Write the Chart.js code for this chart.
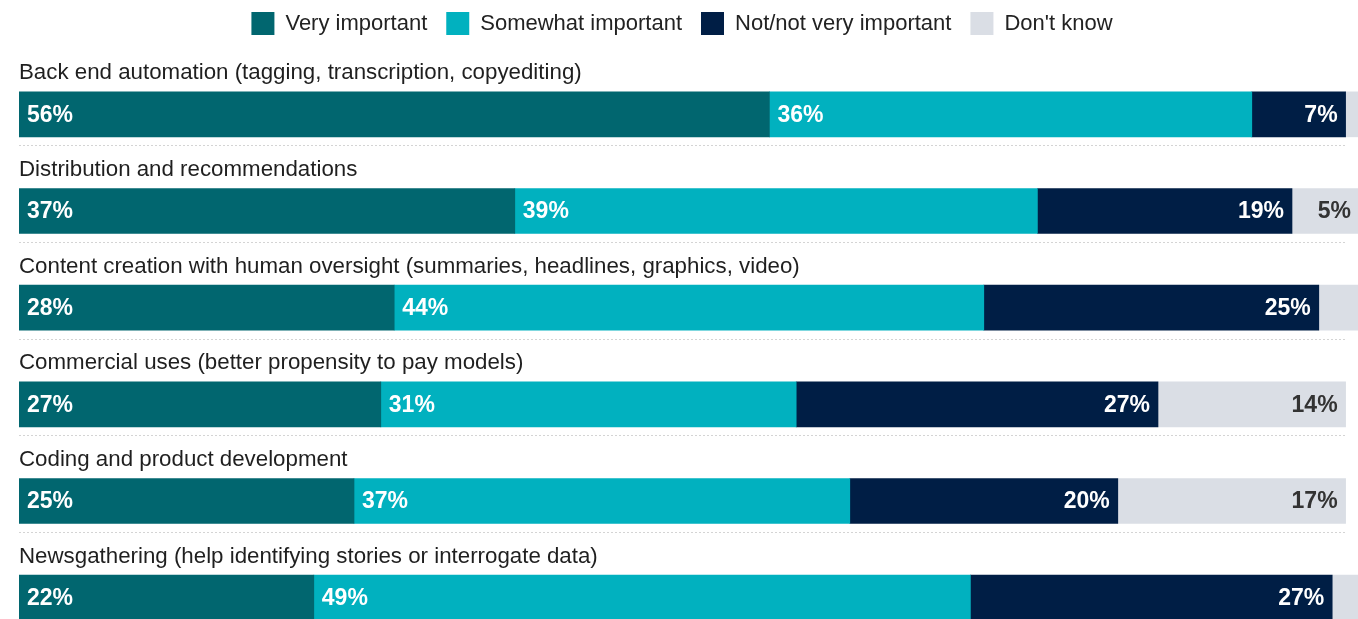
<!DOCTYPE html>
<html>
<head>
<meta charset="utf-8">
<script src="https://cdn.jsdelivr.net/npm/chart.js@4/dist/chart.umd.min.js"></script>
<style>
  html, body { margin: 0; padding: 0; background: #ffffff; }
  #wrap { width: 1358px; height: 619px; overflow: hidden; position: relative; }
  canvas { display: block; }
</style>
</head>
<body>
<div id="wrap"><canvas id="c" width="1360" height="646"></canvas></div>
<script>
const categories = [
  "Back end automation (tagging, transcription, copyediting)",
  "Distribution and recommendations",
  "Content creation with human oversight (summaries, headlines, graphics, video)",
  "Commercial uses (better propensity to pay models)",
  "Coding and product development",
  "Newsgathering (help identifying stories or interrogate data)"
];
const seriesNames = ["Very important", "Somewhat important", "Not/not very important", "Don't know"];
const veryImportant     = [56, 37, 28, 27, 25, 22];
const somewhatImportant = [36, 39, 44, 31, 37, 49];
const notImportant      = [7, 19, 25, 27, 20, 27];
const dontKnow          = [1, 5, 3, 14, 17, 2];
const seriesColors = ["#01666F", "#01B1BF", "#001E45", "#DADEE5"];
const labelColors  = ["#ffffff", "#ffffff", "#ffffff", "#333333"];

const FONT = "'Liberation Sans', Arial, sans-serif";

const legendMargin = {
  id: 'legendMargin',
  beforeInit(chart) {
    const orig = chart.legend.fit;
    chart.legend.fit = function () {
      orig.bind(chart.legend)();
      this.height += 21;
    };
  },
  afterLayout(chart) {
    chart.legend.left -= 7;
    chart.legend.right -= 7;
  }
};

const decorations = {
  id: 'decorations',
  beforeDatasetsDraw(chart) {
    const ctx = chart.ctx;
    const meta0 = chart.getDatasetMeta(0);
    const area = chart.chartArea;
    ctx.save();
    meta0.data.forEach((bar, i) => {
      ctx.fillStyle = "#1f1f1f";
      ctx.font = "22.3px " + FONT;
      ctx.textAlign = "left";
      ctx.textBaseline = "middle";
      ctx.fillText(categories[i], area.left, bar.y - 41);
      ctx.strokeStyle = "#d4d4d4";
      ctx.lineWidth = 1;
      ctx.setLineDash([2, 2]);
      ctx.beginPath();
      const sy = Math.round(bar.y + 31) + 0.5;
      ctx.moveTo(area.left, sy);
      ctx.lineTo(1345, sy);
      ctx.stroke();
    });
    ctx.restore();
  },
  afterDatasetsDraw(chart) {
    const ctx = chart.ctx;
    ctx.save();
    ctx.font = "bold 23px " + FONT;
    ctx.textBaseline = "middle";
    chart.data.datasets.forEach((ds, di) => {
      const meta = chart.getDatasetMeta(di);
      meta.data.forEach((bar, i) => {
        const v = ds.data[i];
        if (v < 5) return;
        const txt = v + "%";
        ctx.fillStyle = labelColors[di];
        const left = Math.min(bar.x, bar.base);
        const right = Math.max(bar.x, bar.base);
        if (di <= 1) {
          ctx.textAlign = "left";
          ctx.fillText(txt, left + 8, bar.y + 1);
        } else {
          ctx.textAlign = "right";
          ctx.fillText(txt, right - 8, bar.y + 1);
        }
      });
    });
    ctx.restore();
  }
};

const valueSets = [veryImportant, somewhatImportant, notImportant, dontKnow];

new Chart(document.getElementById('c'), {
  type: 'bar',
  data: {
    labels: categories,
    datasets: seriesNames.map((name, k) => ({
      label: name,
      data: valueSets[k],
      backgroundColor: seriesColors[k],
      borderWidth: 0,
      barThickness: 45
    }))
  },
  options: {
    indexAxis: 'y',
    responsive: false,
    animation: false,
    layout: { padding: { top: -7, left: 19, right: 1, bottom: 0 } },
    scales: {
      x: { stacked: true, min: 0, max: 100, display: false },
      y: { stacked: true, display: false, offset: true }
    },
    plugins: {
      legend: {
        position: 'top',
        align: 'center',
        labels: {
          boxWidth: 23,
          boxHeight: 23,
          padding: 19,
          color: "#222222",
          font: { family: FONT, size: 22 }
        }
      },
      tooltip: { enabled: false }
    }
  },
  plugins: [legendMargin, decorations]
});
</script>
</body>
</html>
